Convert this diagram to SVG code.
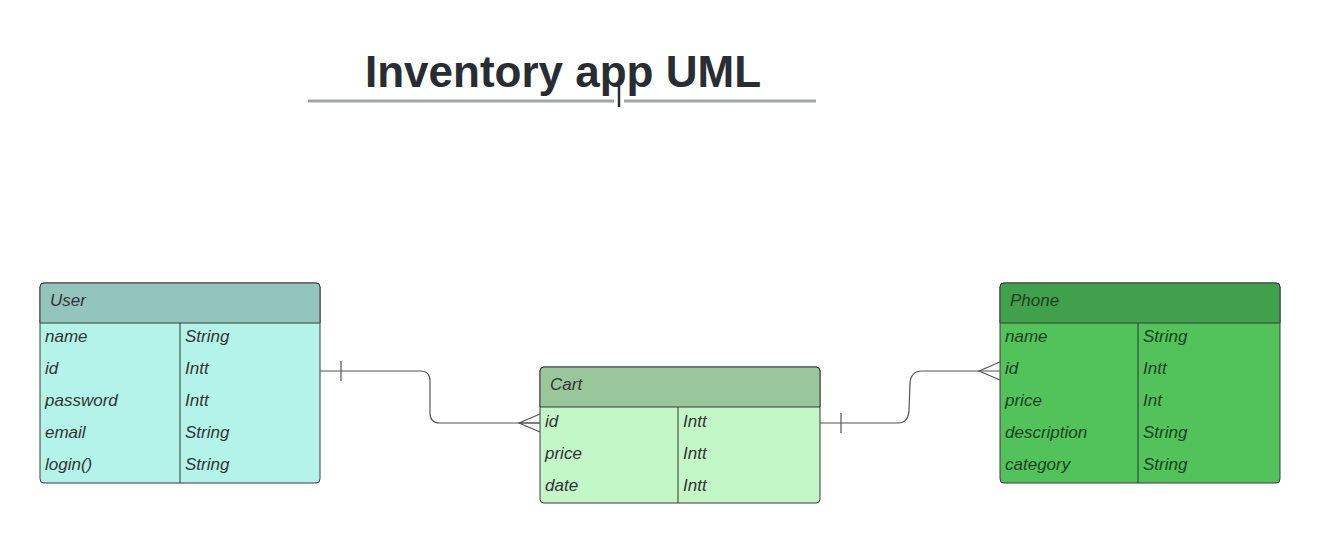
<svg xmlns="http://www.w3.org/2000/svg" width="1320" height="543" viewBox="0 0 1320 543">
<style>
text{font-family:"Liberation Sans",Arial,sans-serif;}
.t{font-size:17px;font-style:italic;fill:#333333;}
.tp{font-size:17px;font-style:italic;fill:#1d3f21;}
.box{stroke:#3a3a3a;stroke-width:1;}
.ln{stroke:#333;stroke-width:1;fill:none;}
.conn{fill:none;stroke:#555;stroke-width:1.2;}
</style>
<rect width="1320" height="543" fill="#ffffff"/>
<g id="title">
<text x="563" y="87" text-anchor="middle" font-size="44" font-weight="bold" fill="#282c33">Inventory app UML</text>
<line x1="308" y1="101" x2="614" y2="101" stroke="#a0a6ab" stroke-width="3"/>
<line x1="624" y1="101" x2="816" y2="101" stroke="#a0a6ab" stroke-width="3"/>
<line x1="619" y1="86" x2="619" y2="107" stroke="#282c33" stroke-width="2.5"/>
</g>
<g id="user">
<rect class="box" x="40" y="283" width="280" height="200" rx="4" fill="#b3f3ea"/>
<path d="M40,323 V287 a4,4 0 0 1 4,-4 H316 a4,4 0 0 1 4,4 V323 Z" fill="#93c5bd" class="box"/>
<line class="ln" x1="180" y1="323" x2="180" y2="483"/>
<text class="t" x="50" y="306">User</text>
<text class="t" x="45" y="342">name</text><text class="t" x="185" y="342">String</text>
<text class="t" x="45" y="374">id</text><text class="t" x="185" y="374">Intt</text>
<text class="t" x="45" y="406">password</text><text class="t" x="185" y="406">Intt</text>
<text class="t" x="45" y="438">email</text><text class="t" x="185" y="438">String</text>
<text class="t" x="45" y="470">login()</text><text class="t" x="185" y="470">String</text>
</g>
<g id="cart">
<rect class="box" x="540" y="367" width="280" height="136" rx="4" fill="#c3f7c8"/>
<path d="M540,407 V371 a4,4 0 0 1 4,-4 H816 a4,4 0 0 1 4,4 V407 Z" fill="#9ac69c" class="box"/>
<line class="ln" x1="678" y1="407" x2="678" y2="503"/>
<text class="t" x="550" y="390">Cart</text>
<text class="t" x="545" y="427">id</text><text class="t" x="683" y="427">Intt</text>
<text class="t" x="545" y="459">price</text><text class="t" x="683" y="459">Intt</text>
<text class="t" x="545" y="491">date</text><text class="t" x="683" y="491">Intt</text>
</g>
<g id="phone">
<rect class="box" x="1000" y="283" width="280" height="200" rx="4" fill="#52c35b"/>
<path d="M1000,323 V287 a4,4 0 0 1 4,-4 H1276 a4,4 0 0 1 4,4 V323 Z" fill="#41a04b" class="box"/>
<line class="ln" x1="1138" y1="323" x2="1138" y2="483"/>
<text class="tp" x="1010" y="306">Phone</text>
<text class="tp" x="1005" y="342">name</text><text class="tp" x="1143" y="342">String</text>
<text class="tp" x="1005" y="374">id</text><text class="tp" x="1143" y="374">Intt</text>
<text class="tp" x="1005" y="406">price</text><text class="tp" x="1143" y="406">Int</text>
<text class="tp" x="1005" y="438">description</text><text class="tp" x="1143" y="438">String</text>
<text class="tp" x="1005" y="470">category</text><text class="tp" x="1143" y="470">String</text>
</g>
<g id="connectors">
<path class="conn" d="M320,371 H420 Q430,371 430,381 V413 Q430,423 440,423 H540"/>
<line class="conn" x1="341" y1="361" x2="341" y2="381"/>
<path class="conn" d="M540,414 L519,423 L540,432 M519,423 H540"/>
<path class="conn" d="M820,423 H898 Q908,423 909,411 L910,383 Q911,371 922,371 H1000"/>
<line class="conn" x1="841" y1="413" x2="841" y2="433"/>
<path class="conn" d="M1000,362 L979,371 L1000,380"/>
</g>
</svg>
